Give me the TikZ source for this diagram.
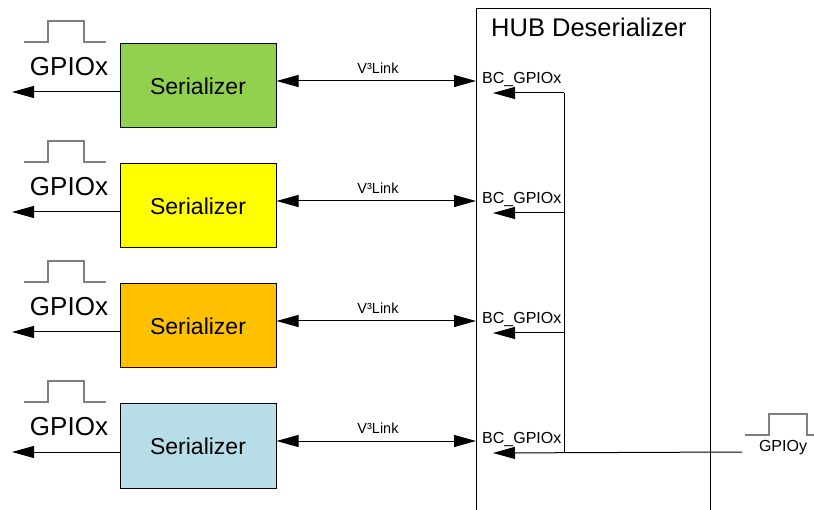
\documentclass[tikz,border=0pt]{standalone}
\usepackage{fontspec}
\setmainfont{Liberation Sans}
\usetikzlibrary{arrows.meta}
\definecolor{cgreen}{HTML}{92D050}
\definecolor{cyellow}{HTML}{FFFF00}
\definecolor{corange}{HTML}{FFC000}
\definecolor{cblue}{HTML}{B7DEE8}
\definecolor{pulsegray}{HTML}{7F7F7F}
\tikzset{
  serbox/.style={draw=black, line width=1pt, minimum width=156pt, minimum height=84pt, inner sep=0pt, font=\fontsize{23}{27}\selectfont},
  biglabel/.style={inner sep=0pt, font=\fontsize{26}{30}\selectfont},
  linklabel/.style={inner sep=0pt, font=\fontsize{14.5}{17}\selectfont},
  bclabel/.style={inner sep=0pt, anchor=west, font=\fontsize{16}{19}\selectfont},
  wire/.style={line width=1pt, draw=black},
  arr/.style={-{Triangle[length=22pt,width=12pt]}},
  darr/.style={{Triangle[length=22pt,width=12pt]}-{Triangle[length=22pt,width=12pt]}},
  pulse/.style={draw=pulsegray, line width=1.3pt},
  hubbox/.style={draw=black, line width=1pt, minimum width=234pt, minimum height=520pt, inner sep=0pt}
}
\begin{document}
\begin{tikzpicture}[x=1pt,y=-1pt]
\useasboundingbox (0,0) rectangle (814,510);
\clip (0,0) rectangle (814,510);
% hub
\node[hubbox, anchor=north west] (hub) at (476,8) {};
\node[inner sep=0pt, font=\fontsize{25.5}{30}\selectfont] (hubt) at (589,27) {HUB Deserializer};
\foreach \k/\c in {0/cgreen,1/cyellow,2/corange,3/cblue}{
  \pgfmathsetmacro{\dy}{120*\k}
  \node[serbox, fill=\c] (s\k) at (198,86+\dy) {Serializer};
  \node[biglabel] (gx\k) at (69,67+\dy) {GPIOx};
  \draw[pulse] (24,42+\dy) -- (48,42+\dy) -- (48,21+\dy) -- (84,21+\dy) -- (84,42+\dy) -- (106,42+\dy);
  \coordinate (g\k) at (12,92+\dy);
  \draw[wire, arr] (s\k.west |- g\k) -- (g\k);
  \coordinate (h\k) at (476,81+\dy);
  \draw[wire, darr] (s\k.east |- h\k) -- (h\k);
  \node[linklabel] (v\k) at (378,68+\dy) {V³Link};
  \node[bclabel] (bc\k) at (482,80+\dy) {BC\_GPIOx};
  \coordinate (fb\k) at (564,93+\dy);
  \coordinate (bt\k) at (493,93+\dy);
}
\foreach \k in {0,1,2}{
  \draw[wire, arr] (fb\k) -- (bt\k);
}
\draw[wire] (fb0) -- (fb3);
\coordinate (gy) at (742,452);
\draw[wire, arr] (gy) -- (bt3);
\node[inner sep=0pt, font=\fontsize{16}{19}\selectfont] (gyt) at (783,448) {GPIOy};
\draw[pulse] (745,435) -- (769,435) -- (769,414) -- (807,414) -- (807,435) -- (814,435);
\end{tikzpicture}
\end{document}
